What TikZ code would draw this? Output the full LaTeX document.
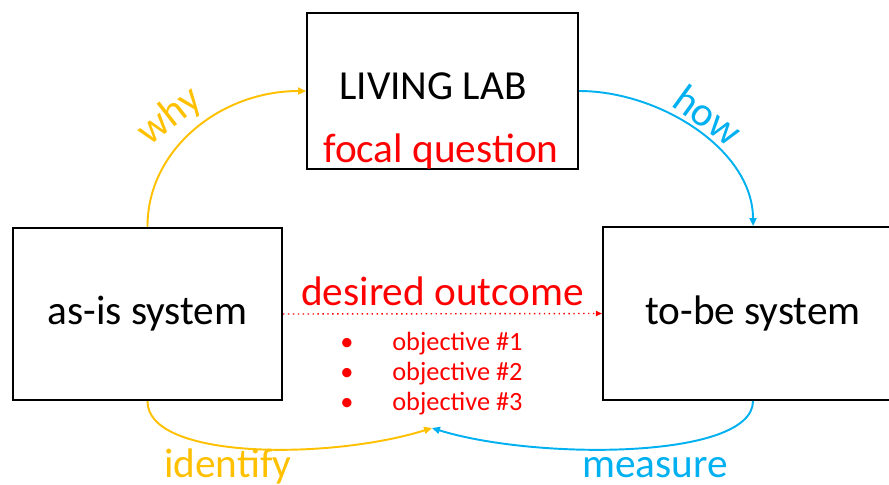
\documentclass[tikz,border=0pt]{standalone}
\usepackage{fontspec}
\setmainfont{Carlito}
\usetikzlibrary{arrows.meta}
\definecolor{labyellow}{HTML}{FFC000}
\definecolor{labblue}{HTML}{00B0F0}
\definecolor{labred}{HTML}{FF0000}

\begin{document}
\begin{tikzpicture}[x=0.02cm, y=-0.02cm,
    box/.style={draw, line width=1.2pt, inner sep=0pt},
    big/.style={font=\fontsize{23.5}{28}\selectfont},
    small/.style={font=\fontsize{15}{18}\selectfont},
    flow/.style={line width=1.1pt, -{Triangle[length=4.5pt, width=4pt]}}]
    \useasboundingbox (0,0) rectangle (889,484);
    \clip (0,0) rectangle (889,484);

    % Caixas
    \node[box, big, minimum width=5.42cm, minimum height=3.12cm] (lab) at (442.5,91) {};
    \node[box, big, minimum width=5.38cm, minimum height=3.44cm] (asis) at (147.5,314) {as-is system};
    \node[box, big, minimum width=6cm, minimum height=3.46cm] (tobe) at (753,313.5) {to-be system};
    \node[big, anchor=base] (labname) at (433,99) {LIVING LAB};
    \node[big, labred, anchor=base] (labq) at (441,162) {focal question};

    % Resultado desejado
    \node[big, labred, anchor=base] (outcome) at (442.5,305) {desired outcome};
    \draw[labred, dotted, line width=0.8pt, -{Triangle[length=3.5pt, width=3pt]}] (asis.east) -- (tobe.west);
    \foreach \i/\y in {1/350, 2/380, 3/410} {
        \node[small, labred, anchor=base] (dot\i) at (347,\y) {•};
        \node[small, labred, anchor=base west, inner sep=0pt] (obj\i) at (392,\y) {objective \#\i};
    }

    % Ciclo
    \coordinate (meet) at (432,428);
    \draw[flow, labyellow] (asis.north) .. controls (147,150) and (220,91) .. (lab.west);
    \draw[flow, labblue] (lab.east) .. controls (660,91) and (753,150) .. (tobe.north);
    \draw[flow, labyellow] (asis.south) .. controls (147,460) and (330,460) .. (meet);
    \draw[flow, labblue] (tobe.south) .. controls (753,460) and (534,460) .. (meet);

    % Rótulos
    \node[big, labyellow, rotate=38] (why) at (170,117) {why};
    \node[big, labblue, rotate=-36] (how) at (708,115) {how};
    \node[big, labyellow, anchor=base] (identify) at (228,477) {identify};
    \node[big, labblue, anchor=base] (measure) at (655,477) {measure};
\end{tikzpicture}
\end{document}
